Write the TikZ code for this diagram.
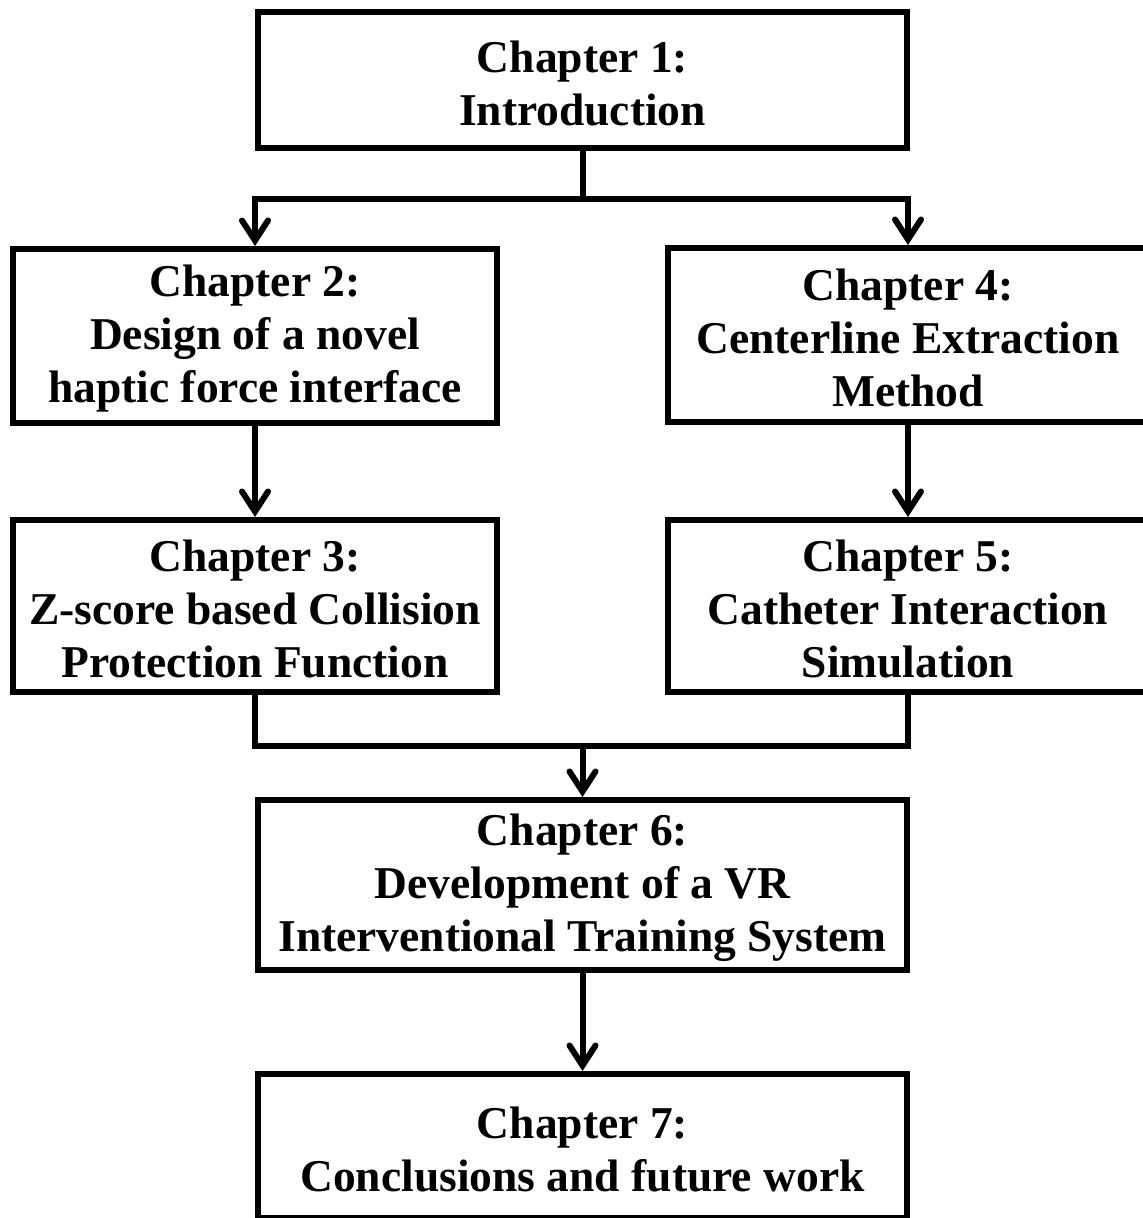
\documentclass[tikz,border=0pt]{standalone}
\usepackage{fontspec}
\setmainfont{Liberation Serif}
\usetikzlibrary{arrows.meta}
\begin{document}
\begin{tikzpicture}[x=1pt,y=-1pt,
  box/.style={draw=black, line width=6pt, align=center, inner sep=0pt,
    font=\bfseries\fontsize{45.5}{53}\selectfont},
  txt/.style={align=center, inner sep=0pt, font=\bfseries\fontsize{45.5}{53}\selectfont},
  conn/.style={line width=6pt},
  arr/.style={line width=6pt, -{Straight Barb[length=20pt,width=26pt,line cap=round]}}]
\useasboundingbox (0,0) rectangle (1143,1218);
\node[box, minimum width=649pt, minimum height=136pt] (c1) at (582.5,80) {};
\node[txt] (t1) at ([yshift=-3pt]c1.center) {Chapter 1:\\Introduction};
\node[box, minimum width=484pt, minimum height=174pt] (c2) at (255,336) {};
\node[txt] (t2) at ([yshift=-3pt]c2.center) {Chapter 2:\\Design of a novel\\haptic force interface};
\node[box, minimum width=480pt, minimum height=174pt] (c4) at (908,335) {};
\node[txt] (t4) at ([yshift=-3pt]c4.center) {Chapter 4:\\Centerline Extraction\\Method};
\node[box, minimum width=484pt, minimum height=172pt] (c3) at (255,606) {};
\node[txt] (t3) at ([yshift=-3pt]c3.center) {Chapter 3:\\Z-score based Collision\\Protection Function};
\node[box, minimum width=480pt, minimum height=172pt] (c5) at (908,606) {};
\node[txt] (t5) at ([yshift=-3pt]c5.center) {Chapter 5:\\Catheter Interaction\\Simulation};
\node[box, minimum width=649pt, minimum height=170pt] (c6) at (582.5,885) {};
\node[txt] (t6) at ([yshift=-3pt]c6.center) {Chapter 6:\\Development of a VR\\Interventional Training System};
\node[box, minimum width=649pt, minimum height=144pt] (c7) at (582.5,1146) {};
\node[txt] (t7) at ([yshift=-3pt]c7.center) {Chapter 7:\\Conclusions and future work};
\coordinate (j1) at (582.5,199);
\coordinate (j2) at (582.5,746);
\draw[conn] (c1.south) -- (j1);
\draw[arr] (j1) -| (c2.north);
\draw[arr] (j1) -| (c4.north);
\draw[arr] (c2.south) -- (c3.north);
\draw[arr] (c4.south) -- (c5.north);
\draw[conn] (c3.south) |- (j2) -| (c5.south);
\draw[arr] (j2) -- (c6.north);
\draw[arr] (c6.south) -- (c7.north);
\end{tikzpicture}
\end{document}
